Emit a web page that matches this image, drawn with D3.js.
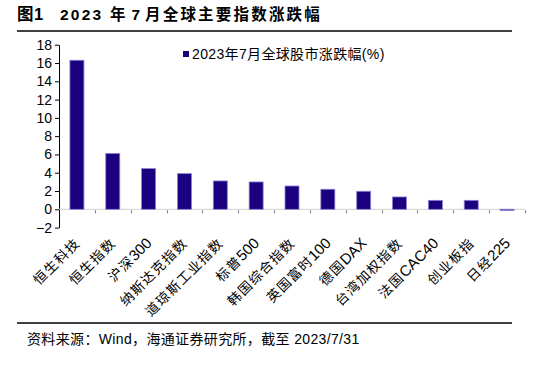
<!DOCTYPE html>
<html><head><meta charset="utf-8">
<script src="https://cdn.jsdelivr.net/npm/d3@7"></script>
<style>body{margin:0;background:#fff}svg{display:block}</style>
</head><body>
<svg id="c" width="553" height="369"></svg>
<script>
const categories = ["恒生科技","恒生指数","沪深300","纳斯达克指数","道琼斯工业指数","标普500","韩国综合指数","英国富时100","德国DAX","台湾加权指数","法国CAC40","创业板指","日经225"];
const values = [16.3, 6.1, 4.45, 3.9, 3.1, 2.99, 2.55, 2.19, 1.97, 1.35, 0.98, 0.98, -0.13];
const yTicks = [-2,0,2,4,6,8,10,12,14,16,18];
const seriesName = "2023年7月全球股市涨跌幅(%)";
const titleParts = ["图1", "2023", "年", "7", "月全球主要指数涨跌幅"];
const sourceText = "资料来源：Wind，海通证券研究所，截至 2023/7/31";

const FONT = "'Liberation Sans', Arial, 'Noto Sans CJK SC', sans-serif";
const svg = d3.select("#c");
const barColor = "#1b0080";

// title
const titleX = [17, 60, 110, 131.5, 145];
const tt = svg.append("text").attr("y",20).attr("font-family",FONT).attr("font-weight","bold")
  .attr("font-size",15.5).attr("fill","#000");
titleParts.forEach((p,i)=>{
  tt.append("tspan").attr("x",titleX[i]).attr("letter-spacing", i===0?0.5:2.2)
    .attr("font-size", i===0?16.5:15.5).text(p);
});
svg.append("line").attr("x1",17).attr("x2",512).attr("y1",31).attr("y2",31).attr("stroke","#000").attr("stroke-width",1.3);
svg.append("line").attr("x1",17).attr("x2",512).attr("y1",323).attr("y2",323).attr("stroke","#000").attr("stroke-width",1.3);
svg.append("text").attr("x",27).attr("y",344).attr("font-family",FONT).attr("font-size",14)
  .attr("letter-spacing",0.35).attr("fill","#000").text(sourceText);

const x = d3.scaleBand().domain(categories).range([59,525]).paddingInner(0.61).paddingOuter(0.305);
const y = d3.scaleLinear().domain([-2,18]).range([227.6,44.7]);

// y axis
const yAxis = d3.axisLeft(y).tickValues(yTicks).tickSize(4).tickSizeOuter(0).tickPadding(3);
const gy = svg.append("g").attr("transform","translate(59,0)").call(yAxis);
gy.select(".domain").attr("stroke","#000");
gy.selectAll(".tick line").attr("stroke","#000");
gy.selectAll("text").attr("font-family",FONT).attr("font-size",14).attr("fill","#000");

// zero line
svg.append("line").attr("x1",59).attr("x2",525).attr("y1",y(0)).attr("y2",y(0)).attr("stroke","#d0d0d0").attr("stroke-width",1);
// category separator ticks
const sepX = d3.range(categories.length).map(i => x(categories[i]) - x.step()*x.paddingInner()/2 + x.step());
svg.selectAll(".sep").data(sepX).enter().append("line")
  .attr("x1",d=>Math.round(d)+0.5).attr("x2",d=>Math.round(d)+0.5).attr("y1",y(0)+1).attr("y2",y(0)+4)
  .attr("stroke","#777").attr("stroke-width",1);

// bars
svg.selectAll(".bar").data(values).enter().append("rect")
  .attr("x",(d,i)=>x(categories[i])).attr("width",x.bandwidth())
  .attr("y",d=>y(Math.max(0,d))).attr("height",d=>Math.abs(y(d)-y(0)))
  .attr("fill",barColor).attr("stroke","#8a7fd0").attr("stroke-width",0.8);

// x labels: CJK runs spaced, Latin runs tight and slightly larger
const splitRuns = s => s.match(/[\u4e00-\u9fff]+|[^\u4e00-\u9fff]+/g);
const lbl = svg.selectAll(".xl").data(categories).enter().append("text")
  .attr("transform",d=>`translate(${x(d)+x.bandwidth()/2+4},${244}) rotate(-45)`)
  .attr("text-anchor","end").attr("font-family",FONT).attr("fill","#000");
lbl.each(function(d){
  const t = d3.select(this);
  splitRuns(d).forEach(r=>{
    const cjk = /[\u4e00-\u9fff]/.test(r);
    t.append("tspan").attr("font-size", cjk?13.5:15).attr("letter-spacing", cjk?1.3:0).text(r);
  });
});

// legend
svg.append("rect").attr("x",183).attr("y",51).attr("width",6).attr("height",6).attr("fill",barColor);
svg.append("text").attr("x",192).attr("y",58.5).attr("font-family",FONT).attr("font-size",14)
  .attr("letter-spacing",0.35).attr("fill","#000").text(seriesName);
</script>
</body></html>
